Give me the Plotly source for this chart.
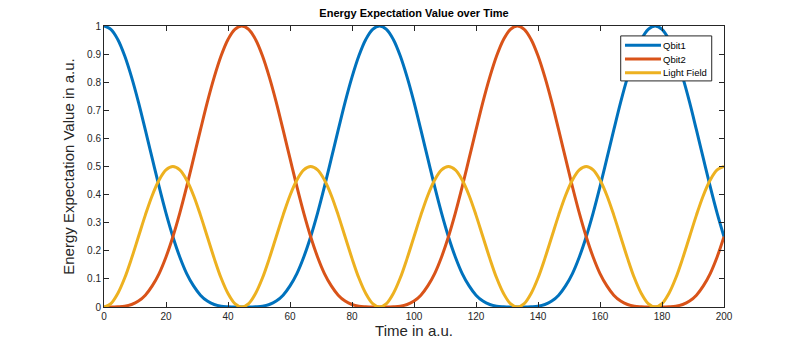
import numpy as np
import plotly.graph_objects as go

# Time grid (a.u.)
time = np.linspace(0, 200, 91)

# Values
qbit1 = [
    1.000, 0.988, 0.952, 0.894, 0.818, 0.729, 0.630, 0.529, 0.428, 0.334, 0.250,
    0.178, 0.119, 0.075, 0.042, 0.021, 0.009, 0.003, 0.001, 0.000, 0.000,
    0.000, 0.001, 0.003, 0.009, 0.021, 0.042, 0.075, 0.119, 0.178, 0.250,
    0.334, 0.428, 0.529, 0.630, 0.729, 0.818, 0.894, 0.952, 0.988, 1.000,
    0.988, 0.952, 0.894, 0.818, 0.729, 0.630, 0.529, 0.428, 0.334, 0.250,
    0.178, 0.119, 0.075, 0.042, 0.021, 0.009, 0.003, 0.001, 0.000, 0.000,
    0.000, 0.001, 0.003, 0.009, 0.021, 0.042, 0.075, 0.119, 0.178, 0.250,
    0.334, 0.428, 0.529, 0.630, 0.729, 0.818, 0.894, 0.952, 0.988, 1.000,
    0.988, 0.952, 0.894, 0.818, 0.729, 0.630, 0.529, 0.428, 0.334, 0.250,
]
qbit2 = [
    0.000, 0.000, 0.001, 0.003, 0.009, 0.021, 0.042, 0.075, 0.119, 0.178, 0.250,
    0.334, 0.428, 0.529, 0.630, 0.729, 0.818, 0.894, 0.952, 0.988, 1.000,
    0.988, 0.952, 0.894, 0.818, 0.729, 0.630, 0.529, 0.428, 0.334, 0.250,
    0.178, 0.119, 0.075, 0.042, 0.021, 0.009, 0.003, 0.001, 0.000, 0.000,
    0.000, 0.001, 0.003, 0.009, 0.021, 0.042, 0.075, 0.119, 0.178, 0.250,
    0.334, 0.428, 0.529, 0.630, 0.729, 0.818, 0.894, 0.952, 0.988, 1.000,
    0.988, 0.952, 0.894, 0.818, 0.729, 0.630, 0.529, 0.428, 0.334, 0.250,
    0.178, 0.119, 0.075, 0.042, 0.021, 0.009, 0.003, 0.001, 0.000, 0.000,
    0.000, 0.001, 0.003, 0.009, 0.021, 0.042, 0.075, 0.119, 0.178, 0.250,
]
light_field = [
    0.000, 0.012, 0.048, 0.103, 0.173, 0.250, 0.327, 0.397, 0.452, 0.488, 0.500,
    0.488, 0.452, 0.397, 0.327, 0.250, 0.173, 0.103, 0.048, 0.012, 0.000,
    0.012, 0.048, 0.103, 0.173, 0.250, 0.327, 0.397, 0.452, 0.488, 0.500,
    0.488, 0.452, 0.397, 0.327, 0.250, 0.173, 0.103, 0.048, 0.012, 0.000,
    0.012, 0.048, 0.103, 0.173, 0.250, 0.327, 0.397, 0.452, 0.488, 0.500,
    0.488, 0.452, 0.397, 0.327, 0.250, 0.173, 0.103, 0.048, 0.012, 0.000,
    0.012, 0.048, 0.103, 0.173, 0.250, 0.327, 0.397, 0.452, 0.488, 0.500,
    0.488, 0.452, 0.397, 0.327, 0.250, 0.173, 0.103, 0.048, 0.012, 0.000,
    0.012, 0.048, 0.103, 0.173, 0.250, 0.327, 0.397, 0.452, 0.488, 0.500,
]

series_names = ["Qbit1", "Qbit2", "Light Field"]
series_colors = ["#0072BD", "#D95319", "#EDB120"]

x_ticks = [0, 20, 40, 60, 80, 100, 120, 140, 160, 180, 200]
y_ticks = [0, 0.1, 0.2, 0.3, 0.4, 0.5, 0.6, 0.7, 0.8, 0.9, 1]
y_tick_labels = ["0", "0.1", "0.2", "0.3", "0.4", "0.5", "0.6", "0.7", "0.8", "0.9", "1"]

FONT = "Liberation Sans"

fig = go.Figure()
for name, vals, col in zip(series_names, [qbit1, qbit2, light_field], series_colors):
    fig.add_trace(go.Scatter(x=time, y=vals, mode="lines", name=name, showlegend=False,
                             line=dict(color=col, width=3, shape="spline")))

axis_common = dict(showgrid=False, zeroline=False, showline=True, linecolor="#262626",
                   linewidth=1, mirror="ticks", ticks="inside", ticklen=5,
                   tickcolor="#262626", tickfont=dict(family=FONT, size=10, color="#262626"))

# Compact MATLAB-style legend box (paper coordinates)
leg_x0, leg_x1 = 0.8334, 0.9802
leg_y0, leg_y1 = 0.8046, 0.9647
line_x0, line_x1 = 0.8403, 0.8984
text_x = 0.8985
row_ys = [0.9318, 0.8823, 0.8339]

shapes = [dict(type="rect", xref="paper", yref="paper", x0=leg_x0, x1=leg_x1,
               y0=leg_y0, y1=leg_y1, fillcolor="white",
               line=dict(color="#262626", width=1), layer="above")]
annotations = []
for name, col, ry in zip(series_names, series_colors, row_ys):
    shapes.append(dict(type="line", xref="paper", yref="paper", x0=line_x0, x1=line_x1,
                       y0=ry, y1=ry, line=dict(color=col, width=3), layer="above"))
    annotations.append(dict(text=name, xref="paper", yref="paper", x=text_x, y=ry,
                            xanchor="left", yanchor="middle", showarrow=False,
                            font=dict(family=FONT, size=9.5, color="#000000")))

fig.update_layout(
    width=800, height=349,
    margin=dict(l=104, r=76, t=26, b=40),
    paper_bgcolor="white", plot_bgcolor="white",
    title=dict(text="<b>Energy Expectation Value over Time</b>", x=0.5175, xanchor="center",
               y=1 - 13 / 349, yanchor="middle",
               font=dict(family=FONT, size=11, color="#000000")),
    xaxis=dict(range=[0, 200], tickvals=x_ticks, **axis_common,
               title=dict(text="Time in a.u.", standoff=4,
                          font=dict(family=FONT, size=15, color="#262626"))),
    yaxis=dict(range=[0, 1], tickvals=y_ticks, ticktext=y_tick_labels, **axis_common,
               title=dict(text="Energy Expectation Value in a.u.", standoff=8,
                          font=dict(family=FONT, size=15, color="#262626"))),
    shapes=shapes,
    annotations=annotations,
    showlegend=False,
)

fig.write_html("out.html")
